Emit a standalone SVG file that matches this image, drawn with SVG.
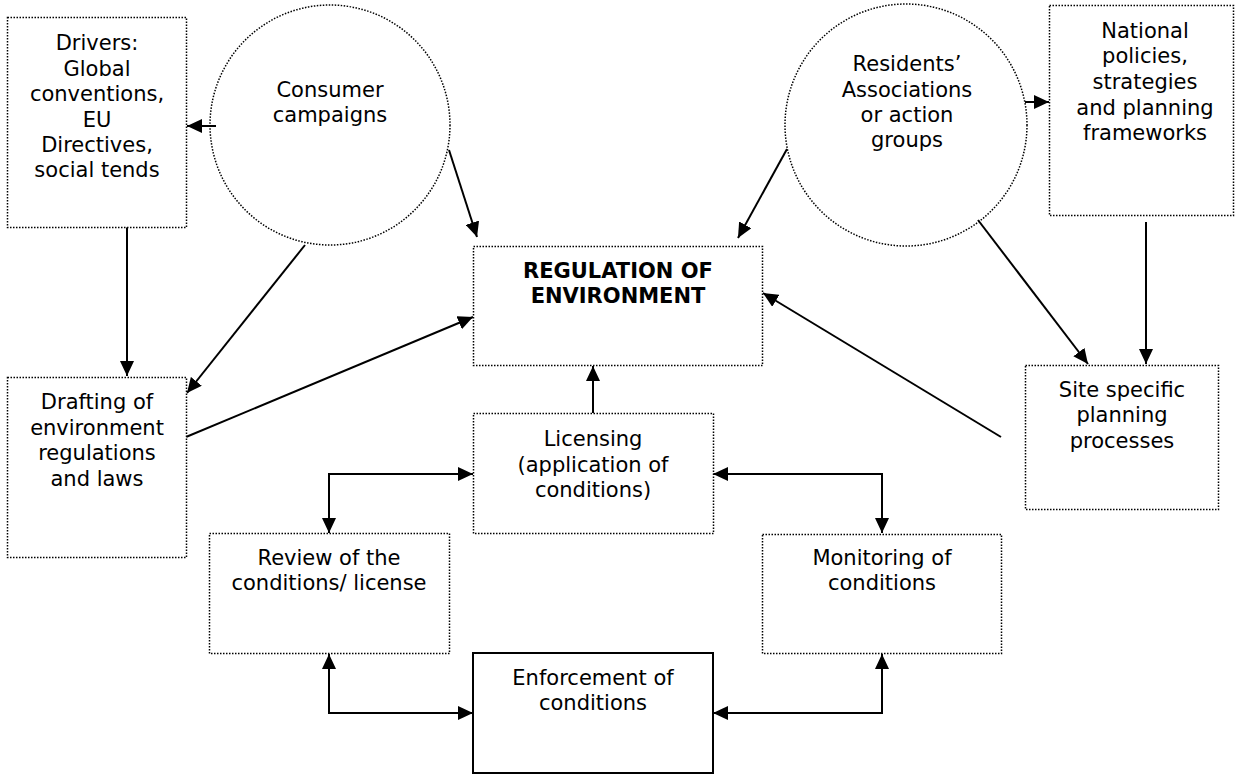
<svg xmlns="http://www.w3.org/2000/svg" width="1241" height="776" viewBox="0 0 1241 776">
  <style>
    .dot { fill: #ffffff; stroke: #000000; stroke-width: 1.5; stroke-dasharray: 1.5 1.5; }
    .solid { fill: #ffffff; stroke: #000000; stroke-width: 2; }
    .lbl { font-family: "DejaVu Sans", Verdana, sans-serif; font-size: 21px; fill: #000000; text-anchor: middle; }
    .bold { font-weight: bold; }
    .conn { fill: none; stroke: #000000; stroke-width: 2; }
  </style>
  <defs>
    <marker id="arrow" markerUnits="userSpaceOnUse" markerWidth="16" markerHeight="14" refX="15" refY="7" orient="auto-start-reverse">
      <path d="M0,0 L15,7 L0,14 Z" fill="#000000"/>
    </marker>
  </defs>

  <rect width="1241" height="776" fill="#ffffff"/>

  <!-- connectors -->
  <g id="connectors" class="conn">
    <line x1="216" y1="126" x2="187" y2="126" marker-end="url(#arrow)"/>
    <line x1="127" y1="227" x2="127" y2="376" marker-end="url(#arrow)"/>
    <line x1="305" y1="245" x2="187" y2="393" marker-end="url(#arrow)"/>
    <line x1="186" y1="437" x2="473" y2="317" marker-end="url(#arrow)"/>
    <line x1="449" y1="150" x2="477" y2="237" marker-end="url(#arrow)"/>
    <line x1="787" y1="149" x2="738" y2="238" marker-end="url(#arrow)"/>
    <line x1="1025" y1="102" x2="1049" y2="102" marker-end="url(#arrow)"/>
    <line x1="978" y1="220" x2="1088" y2="364" marker-end="url(#arrow)"/>
    <line x1="1146" y1="222" x2="1146" y2="364" marker-end="url(#arrow)"/>
    <line x1="1001" y1="437" x2="763" y2="293" marker-end="url(#arrow)"/>
    <line x1="593" y1="413" x2="593" y2="366" marker-end="url(#arrow)"/>
    <path d="M473,474 H329 V533" marker-start="url(#arrow)" marker-end="url(#arrow)"/>
    <path d="M713,474 H882 V533" marker-start="url(#arrow)" marker-end="url(#arrow)"/>
    <path d="M329,654 V713 H473" marker-start="url(#arrow)" marker-end="url(#arrow)"/>
    <path d="M882,654 V713 H713" marker-start="url(#arrow)" marker-end="url(#arrow)"/>
  </g>

  <g id="drivers">
    <rect class="dot" x="7.5" y="17.5" width="179" height="210"/>
    <text class="lbl" x="97" y="50">Drivers:</text>
    <text class="lbl" x="97" y="76">Global</text>
    <text class="lbl" x="97" y="101">conventions,</text>
    <text class="lbl" x="97" y="127">EU</text>
    <text class="lbl" x="97" y="152">Directives,</text>
    <text class="lbl" x="97" y="177">social tends</text>
  </g>

  <g id="consumer-campaigns">
    <circle class="dot" cx="330" cy="125" r="120" fill="none" style="fill:none"/>
    <text class="lbl" x="330" y="97">Consumer</text>
    <text class="lbl" x="330" y="122">campaigns</text>
  </g>

  <g id="residents">
    <circle class="dot" cx="906" cy="125" r="121" style="fill:none"/>
    <text class="lbl" x="907" y="71">Residents’</text>
    <text class="lbl" x="907" y="97">Associations</text>
    <text class="lbl" x="907" y="122">or action</text>
    <text class="lbl" x="907" y="147">groups</text>
  </g>

  <g id="national-policies">
    <rect class="dot" x="1049.5" y="5.5" width="184" height="210"/>
    <text class="lbl" x="1145" y="38">National</text>
    <text class="lbl" x="1145" y="63">policies,</text>
    <text class="lbl" x="1145" y="89">strategies</text>
    <text class="lbl" x="1145" y="115">and planning</text>
    <text class="lbl" x="1145" y="140">frameworks</text>
  </g>

  <g id="regulation">
    <rect class="dot" x="473.5" y="246.5" width="289" height="119"/>
    <text class="lbl bold" x="618" y="278">REGULATION OF</text>
    <text class="lbl bold" x="618" y="303">ENVIRONMENT</text>
  </g>

  <g id="drafting">
    <rect class="dot" x="7.5" y="377.5" width="179" height="180"/>
    <text class="lbl" x="97" y="409">Drafting of</text>
    <text class="lbl" x="97" y="434.5">environment</text>
    <text class="lbl" x="97" y="460">regulations</text>
    <text class="lbl" x="97" y="485.5">and laws</text>
  </g>

  <g id="site-specific">
    <rect class="dot" x="1025.5" y="365.5" width="193" height="144"/>
    <text class="lbl" x="1122" y="397">Site specific</text>
    <text class="lbl" x="1122" y="422">planning</text>
    <text class="lbl" x="1122" y="448">processes</text>
  </g>

  <g id="licensing">
    <rect class="dot" x="473.5" y="413.5" width="240" height="120"/>
    <text class="lbl" x="593" y="446">Licensing</text>
    <text class="lbl" x="593" y="472">(application of</text>
    <text class="lbl" x="593" y="497">conditions)</text>
  </g>

  <g id="review">
    <rect class="dot" x="209.5" y="533.5" width="240" height="120"/>
    <text class="lbl" x="329" y="565">Review of the</text>
    <text class="lbl" x="329" y="590">conditions/ license</text>
  </g>

  <g id="monitoring">
    <rect class="dot" x="762.5" y="534.5" width="239" height="119"/>
    <text class="lbl" x="882" y="565">Monitoring of</text>
    <text class="lbl" x="882" y="590">conditions</text>
  </g>

  <g id="enforcement">
    <rect class="solid" x="473" y="653" width="240" height="120"/>
    <text class="lbl" x="593" y="685">Enforcement of</text>
    <text class="lbl" x="593" y="710">conditions</text>
  </g>
</svg>
